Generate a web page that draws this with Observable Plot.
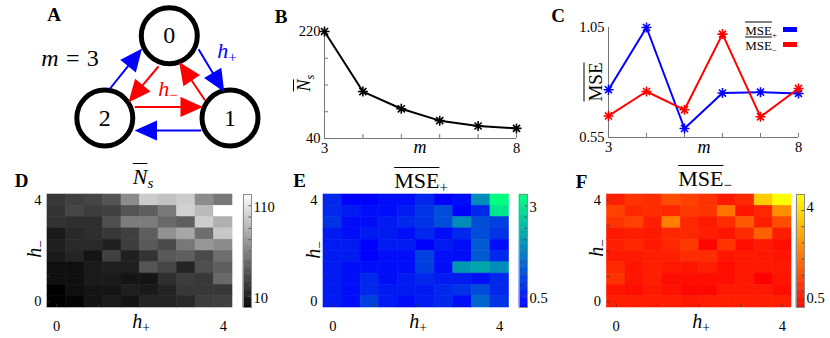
<!DOCTYPE html>
<html><head><meta charset="utf-8">
<script src="https://cdn.jsdelivr.net/npm/d3@7"></script>
<script src="https://cdn.jsdelivr.net/npm/@observablehq/plot@0.6"></script>
<style>
html,body{margin:0;padding:0;background:#fff;}
#fig{position:relative;width:830px;height:338px;overflow:hidden;background:#fff;font-family:"Liberation Serif","DejaVu Serif",serif;color:#000;}
.box{position:absolute;}
.box svg{display:block;overflow:visible;max-width:none;}
.box svg text{font-family:"Liberation Serif","DejaVu Serif",serif;}
.lbl{position:absolute;white-space:nowrap;line-height:1;}
.ol{text-decoration:overline;text-decoration-thickness:1px;}
.sub{font-size:68%;position:relative;top:0.3em;}
</style></head><body><div id="fig"></div>
<script>
// ---------- data ----------
const mValues = [3, 4, 5, 6, 7, 8];
const nsMean = [220, 119, 90, 70, 61, 57];
const msePlus = [0.767, 1.05, 0.591, 0.752, 0.756, 0.75];
const mseMinus = [0.648, 0.759, 0.676, 1.02, 0.644, 0.773];
const nsTicks = [40, 85, 130, 175, 220];

const hPlus = [0, 0.444, 0.889, 1.333, 1.778, 2.222, 2.667, 3.111, 3.556, 4];
const hMinus = [4, 3.556, 3.111, 2.667, 2.222, 1.778, 1.333, 0.889, 0.444, 0]; // rows top -> bottom
const hTicks = [0, 1, 2, 3, 4];

const nsGrid = [
  [32, 35, 37, 43, 65, 90, 86, 90, 65, 57],
  [30, 37, 34, 35, 43, 47, 57, 92, 83, 110],
  [30, 28, 28, 41, 59, 59, 51, 47, 90, 79],
  [20, 26, 28, 32, 35, 47, 67, 75, 53, 88],
  [22, 26, 26, 22, 34, 45, 39, 57, 69, 65],
  [20, 24, 18, 35, 22, 30, 45, 47, 39, 53],
  [16, 16, 20, 22, 22, 43, 37, 24, 41, 47],
  [16, 16, 20, 20, 18, 18, 28, 34, 32, 51],
  [10, 16, 18, 18, 22, 20, 24, 32, 32, 32],
  [10, 12, 18, 20, 18, 24, 24, 26, 34, 35]
];
const msePlusGrid = [
  [0.88, 0.5, 0.5, 0.63, 0.63, 0.88, 0.5, 0.63, 1.88, 3.0],
  [0.88, 0.75, 0.63, 0.63, 0.75, 1.0, 1.25, 0.5, 0.88, 2.75],
  [1.0, 0.63, 0.63, 0.75, 0.88, 1.0, 1.25, 1.88, 1.25, 1.13],
  [0.75, 0.63, 0.75, 0.75, 0.63, 0.88, 0.63, 0.88, 1.25, 1.0],
  [0.75, 0.75, 0.5, 0.75, 0.75, 0.5, 0.75, 0.63, 1.38, 0.63],
  [0.75, 0.75, 0.5, 0.63, 0.63, 1.13, 0.63, 0.63, 1.38, 0.88],
  [0.75, 0.63, 0.63, 0.63, 0.63, 1.13, 0.63, 2.0, 2.13, 1.88],
  [0.75, 0.63, 0.88, 0.63, 0.75, 0.88, 0.75, 0.75, 0.63, 0.88],
  [0.75, 0.63, 0.88, 0.75, 0.75, 0.75, 0.88, 1.0, 1.25, 0.88],
  [0.75, 0.63, 1.13, 0.75, 0.63, 0.75, 0.88, 0.63, 1.5, 1.0]
];
const mseMinusGrid = [
  [0.92, 1.2, 1.1, 1.55, 1.38, 1.2, 0.85, 1.03, 3.3, 4.0],
  [1.38, 1.03, 1.1, 1.03, 1.27, 1.2, 2.08, 0.78, 1.03, 2.43],
  [1.2, 1.38, 0.92, 2.25, 1.03, 0.85, 1.1, 1.73, 0.92, 1.55],
  [0.85, 0.92, 0.85, 1.03, 1.03, 0.92, 0.78, 1.1, 1.83, 0.92],
  [0.92, 1.03, 0.85, 1.03, 1.27, 0.57, 1.2, 0.68, 0.85, 0.68],
  [0.85, 0.85, 0.92, 0.92, 1.1, 1.1, 0.78, 0.85, 0.85, 0.78],
  [1.03, 0.78, 0.92, 0.85, 0.78, 0.92, 0.68, 0.85, 0.85, 0.85],
  [1.2, 0.78, 0.92, 0.68, 0.68, 0.68, 0.68, 0.85, 0.5, 0.78],
  [0.78, 0.68, 0.85, 0.75, 0.6, 0.6, 0.85, 0.85, 0.85, 0.68],
  [0.92, 0.92, 0.92, 0.92, 0.85, 0.92, 0.92, 0.92, 0.92, 0.92]
];

// diagram (panel A): node layout and directed edges
const nodes = [
  {id: "0", x: 168.8, y: 35.2},
  {id: "1", x: 229.5, y: 117.5},
  {id: "2", x: 104.3, y: 117.5}
];
const edges = [
  {x1: 198.5, y1: 49.5, x2: 222.5, y2: 89.5, color: "#0000ff"},
  {x1: 200, y1: 130, x2: 136.5, y2: 130, color: "#0000ff"},
  {x1: 110, y1: 87.5, x2: 140, y2: 50, color: "#0000ff"},
  {x1: 157.5, y1: 66.5, x2: 129.5, y2: 100, color: "#ff0000"},
  {x1: 135, y1: 106.5, x2: 200, y2: 106.5, color: "#ff0000"},
  {x1: 204, y1: 99, x2: 180, y2: 63.5, color: "#ff0000"}
];

// ---------- helpers ----------
const FONT = '"Liberation Serif","DejaVu Serif",serif';
const fig = document.getElementById("fig");
const baseStyle = `font-family:${FONT};font-size:14.5px;background:transparent;color:#000;overflow:visible;`;
const intFmt = d => String(d);

function mount(svg, left, top, w, h) {
  const d = document.createElement("div");
  d.className = "box";
  d.style.left = left + "px"; d.style.top = top + "px";
  d.style.width = w + "px"; d.style.height = h + "px";
  d.appendChild(svg);
  fig.appendChild(d);
}
function label(html, cx, cy, o = {}) {
  const d = document.createElement("div");
  d.className = "lbl";
  d.innerHTML = html;
  d.style.left = cx + "px"; d.style.top = cy + "px";
  d.style.fontSize = (o.size || 16) + "px";
  d.style.color = o.color || "#000";
  d.style.fontWeight = o.weight || "normal";
  d.style.transform = `translate(-50%,-50%) rotate(${o.rotate || 0}deg)`;
  fig.appendChild(d);
}
function swatch(left, top, w, h, color) {
  const d = document.createElement("div");
  d.style.cssText = `position:absolute;left:${left}px;top:${top}px;width:${w}px;height:${h}px;background:${color}`;
  fig.appendChild(d);
}

const star = {
  draw(ctx, size) {
    const r = Math.sqrt(size / Math.PI), c = r * Math.SQRT1_2;
    ctx.moveTo(-r, 0); ctx.lineTo(r, 0);
    ctx.moveTo(0, -r); ctx.lineTo(0, r);
    ctx.moveTo(-c, -c); ctx.lineTo(c, c);
    ctx.moveTo(-c, c); ctx.lineTo(c, -c);
  }
};
const arrowShape = {
  draw(ctx, l) {
    const hl = 19, hw = 8.5;
    ctx.moveTo(0, 0); ctx.lineTo(0, -(l - hl));
    ctx.moveTo(-hw, -(l - hl)); ctx.lineTo(0, -l); ctx.lineTo(hw, -(l - hl)); ctx.closePath();
  }
};

// ---------- Panel A ----------
mount(Plot.plot({
  width: 270, height: 160, margin: 0,
  x: {domain: [0, 270], range: [0, 270], axis: null},
  y: {domain: [0, 160], range: [0, 160], axis: null},
  length: {type: "identity"},
  color: {type: "identity"},
  style: baseStyle,
  marks: [
    Plot.dot(nodes, {x: "x", y: "y", r: 28, stroke: "#000", strokeWidth: 5, fill: "#fff"}),
    Plot.text(nodes, {x: "x", y: "y", text: "id", fontSize: 24, fontFamily: FONT}),
    Plot.vector(edges, {
      x: "x1", y: "y1",
      length: d => Math.hypot(d.x2 - d.x1, d.y2 - d.y1),
      rotate: d => Math.atan2(d.x2 - d.x1, -(d.y2 - d.y1)) * 180 / Math.PI,
      anchor: "start", shape: arrowShape,
      stroke: "color", fill: "color", strokeWidth: 2, strokeLinejoin: "miter"
    })
  ]
}), 0, 0, 270, 160);

// ---------- Panel B ----------
const bData = mValues.map((m, i) => ({m, v: nsMean[i]}));
mount(Plot.plot({
  width: 280, height: 160, marginLeft: 54, marginRight: 34, marginTop: 31, marginBottom: 22,
  x: {domain: [3, 8]}, y: {domain: [40, 220]},
  style: baseStyle,
  marks: [
    Plot.ruleY([40], {stroke: "#777"}),
    Plot.ruleX([3], {stroke: "#777"}),
    Plot.tickX(mValues, {x: d => d, stroke: "#777", insetTop: 107 - 4}),
    Plot.tickY(nsTicks, {y: d => d, stroke: "#777", insetRight: 192 - 4}),
    Plot.axisX({ticks: [3, 8], tickSize: 0, tickPadding: 4, tickFormat: intFmt, label: null, fontFamily: FONT}),
    Plot.axisY({ticks: [40, 220], tickSize: 0, tickPadding: 4, tickFormat: intFmt, label: null, fontFamily: FONT}),
    Plot.line(bData, {x: "m", y: "v", stroke: "#000", strokeWidth: 2}),
    Plot.dot(bData, {x: "m", y: "v", symbol: star, r: 5, fill: "none", stroke: "#000", strokeWidth: 1.6})
  ]
}), 270, 0, 280, 160);

// ---------- Panel C ----------
const cData = [
  ...mValues.map((m, i) => ({m, v: msePlus[i], s: "plus"})),
  ...mValues.map((m, i) => ({m, v: mseMinus[i], s: "minus"}))
];
mount(Plot.plot({
  width: 280, height: 160, marginLeft: 58, marginRight: 32, marginTop: 27, marginBottom: 23,
  x: {domain: [3, 8]}, y: {domain: [0.55, 1.05]},
  color: {domain: ["plus", "minus"], range: ["#0000ff", "#ff0000"]},
  style: baseStyle,
  marks: [
    Plot.ruleY([0.55], {stroke: "#777"}),
    Plot.ruleX([3], {stroke: "#777"}),
    Plot.tickX(mValues, {x: d => d, stroke: "#777", insetTop: 110 - 4}),
    Plot.axisX({ticks: [3, 8], tickSize: 0, tickPadding: 4, tickFormat: intFmt, label: null, fontFamily: FONT}),
    Plot.axisY({ticks: [0.55, 1.05], tickSize: 0, tickPadding: 4, tickFormat: d3.format(".2f"), label: null, fontFamily: FONT}),
    Plot.line(cData, {x: "m", y: "v", z: "s", stroke: "s", strokeWidth: 2}),
    Plot.dot(cData, {x: "m", y: "v", symbol: star, r: 5, fill: "none", stroke: "s", strokeWidth: 1.6})
  ]
}), 550, 0, 280, 160);

// ---------- Heatmaps ----------
const half = (hPlus[1] - hPlus[0]) / 2;
function cells(grid) {
  const out = [];
  grid.forEach((row, i) => row.forEach((v, j) => out.push({hp: hPlus[j], hm: hMinus[i], v})));
  return out;
}
function heatmap(grid, colorOpts, left, ml, mr) {
  const W = 240, H = 178, mt = 34, mb = 31;
  const fw = W - ml - mr, fh = H - mt - mb;
  mount(Plot.plot({
    width: W, height: H, marginLeft: ml, marginRight: mr, marginTop: mt, marginBottom: mb,
    x: {domain: [-half, 4 + half]}, y: {domain: [-half, 4 + half]},
    color: colorOpts,
    style: baseStyle,
    marks: [
      Plot.rect(cells(grid), {
        x1: d => d.hp - half, x2: d => d.hp + half,
        y1: d => d.hm - half, y2: d => d.hm + half,
        fill: "v", stroke: "v", strokeWidth: 0.6
      }),
      Plot.tickX(hTicks, {x: d => d, stroke: "#333", strokeOpacity: 0.7, insetTop: fh - 3}),
      Plot.tickY(hTicks, {y: d => d, stroke: "#333", strokeOpacity: 0.7, insetRight: fw - 3}),
      Plot.axisX({ticks: [0, 4], tickSize: 0, tickPadding: 13, tickFormat: intFmt, label: null, fontFamily: FONT}),
      Plot.axisY({ticks: [0, 4], tickSize: 0, tickPadding: 6, tickFormat: intFmt, label: null, fontFamily: FONT})
    ]
  }), left, 160, W, H);
}
function colorbar(colorOpts, lo, hi, minor, loText, hiText, left) {
  const W = left === 789 ? 41 : 50, H = 130;
  const stops = d3.range(128).map(i => ({
    y1: lo + (hi - lo) * i / 128, y2: lo + (hi - lo) * (i + 1) / 128, v: lo + (hi - lo) * (i + 0.5) / 128
  }));
  mount(Plot.plot({
    width: W, height: H, marginLeft: 7, marginRight: W - 15, marginTop: 9, marginBottom: 8,
    y: {domain: [lo, hi], axis: null},
    color: colorOpts,
    style: baseStyle,
    marks: [
      Plot.rect(stops, {y1: "y1", y2: "y2", fill: "v", stroke: "v", strokeWidth: 0.5}),
      Plot.tickY(minor, {y: d => d, stroke: "#555", insetLeft: 8 - 2.5}),
      Plot.frame({stroke: "#8c8c8c"}),
      Plot.text([hiText], {frameAnchor: "top-right", dx: 2, dy: 7, textAnchor: "start", text: d => d, fontFamily: FONT}),
      Plot.text([loText], {frameAnchor: "bottom-right", dx: 2, dy: -5, textAnchor: "start", text: d => d, fontFamily: FONT})
    ]
  }), left, 185, W, H);
}

const grayC = {type: "linear", domain: [10, 110], clamp: true, interpolate: t => `rgb(${255 * t},${255 * t},${255 * t})`};
const winterC = {type: "linear", domain: [0.5, 3], clamp: true, interpolate: t => `rgb(0,${255 * t},${255 * (1 - 0.5 * t)})`};
const autumnC = {type: "linear", domain: [0.5, 4], clamp: true, interpolate: t => `rgb(255,${255 * t},0)`};

heatmap(nsGrid, grayC, 0, 47, 8);
heatmap(msePlusGrid, winterC, 280, 43, 11.5);
heatmap(mseMinusGrid, autumnC, 560, 46.5, 9);

colorbar(grayC, 10, 110, [20, 30, 40, 50, 60, 70, 80, 90, 100], "10", "110", 236);
colorbar(winterC, 0.5, 3, [0.75, 1, 1.25, 1.5, 1.75, 2, 2.25, 2.5, 2.75], "0.5", "3", 512);
colorbar(autumnC, 0.5, 4, [1, 1.5, 2, 2.5, 3, 3.5], "0.5", "4", 789);

// ---------- text labels ----------
const NS = '<span class="ol"><i>N</i></span><span class="sub"><i>s</i></span>';
const MSEP = '<span class="ol">MSE</span><span class="sub">+</span>';
const MSEM = '<span class="ol">MSE</span><span class="sub">−</span>';
const HP = '<i>h</i><span class="sub">+</span>';
const HM = '<i>h</i><span class="sub">−</span>';

[["A", 54, 14], ["B", 281, 15.5], ["C", 558, 15], ["D", 21.5, 180], ["E", 299.5, 180], ["F", 581.5, 181]]
  .forEach(([t, x, y]) => label(t, x, y, {size: 19, weight: "bold"}));

label('<i>m</i><span style="margin:0 0.3em">=</span>3', 70, 58, {size: 24});
label(HP, 227, 51, {size: 22, color: "#0000ff"});
label(HM, 168, 89, {size: 22, color: "#ff0000"});

label(NS, 304, 83, {size: 18, rotate: -90});
label('<i>m</i>', 420, 147, {size: 18});
label('<span class="ol">MSE</span>', 595, 82, {size: 19, rotate: -90});
label('<i>m</i>', 704, 147, {size: 18});
label(MSEP, 761, 30, {size: 13});
label(MSEM, 761, 45, {size: 13});
swatch(783, 27, 14, 5, "#0000ff");
swatch(783, 42, 14, 5, "#ff0000");

label(NS, 143, 177, {size: 22});
label(MSEP, 421, 181, {size: 22});
label(MSEM, 705, 179, {size: 22});
label(HP, 141, 321, {size: 20});
label(HP, 418, 321, {size: 20});
label(HP, 701, 321, {size: 20});
label(HM, 34, 249, {size: 20, rotate: -90});
label(HM, 313, 250, {size: 20, rotate: -90});
label(HM, 596, 248, {size: 20, rotate: -90});
</script></body></html>
